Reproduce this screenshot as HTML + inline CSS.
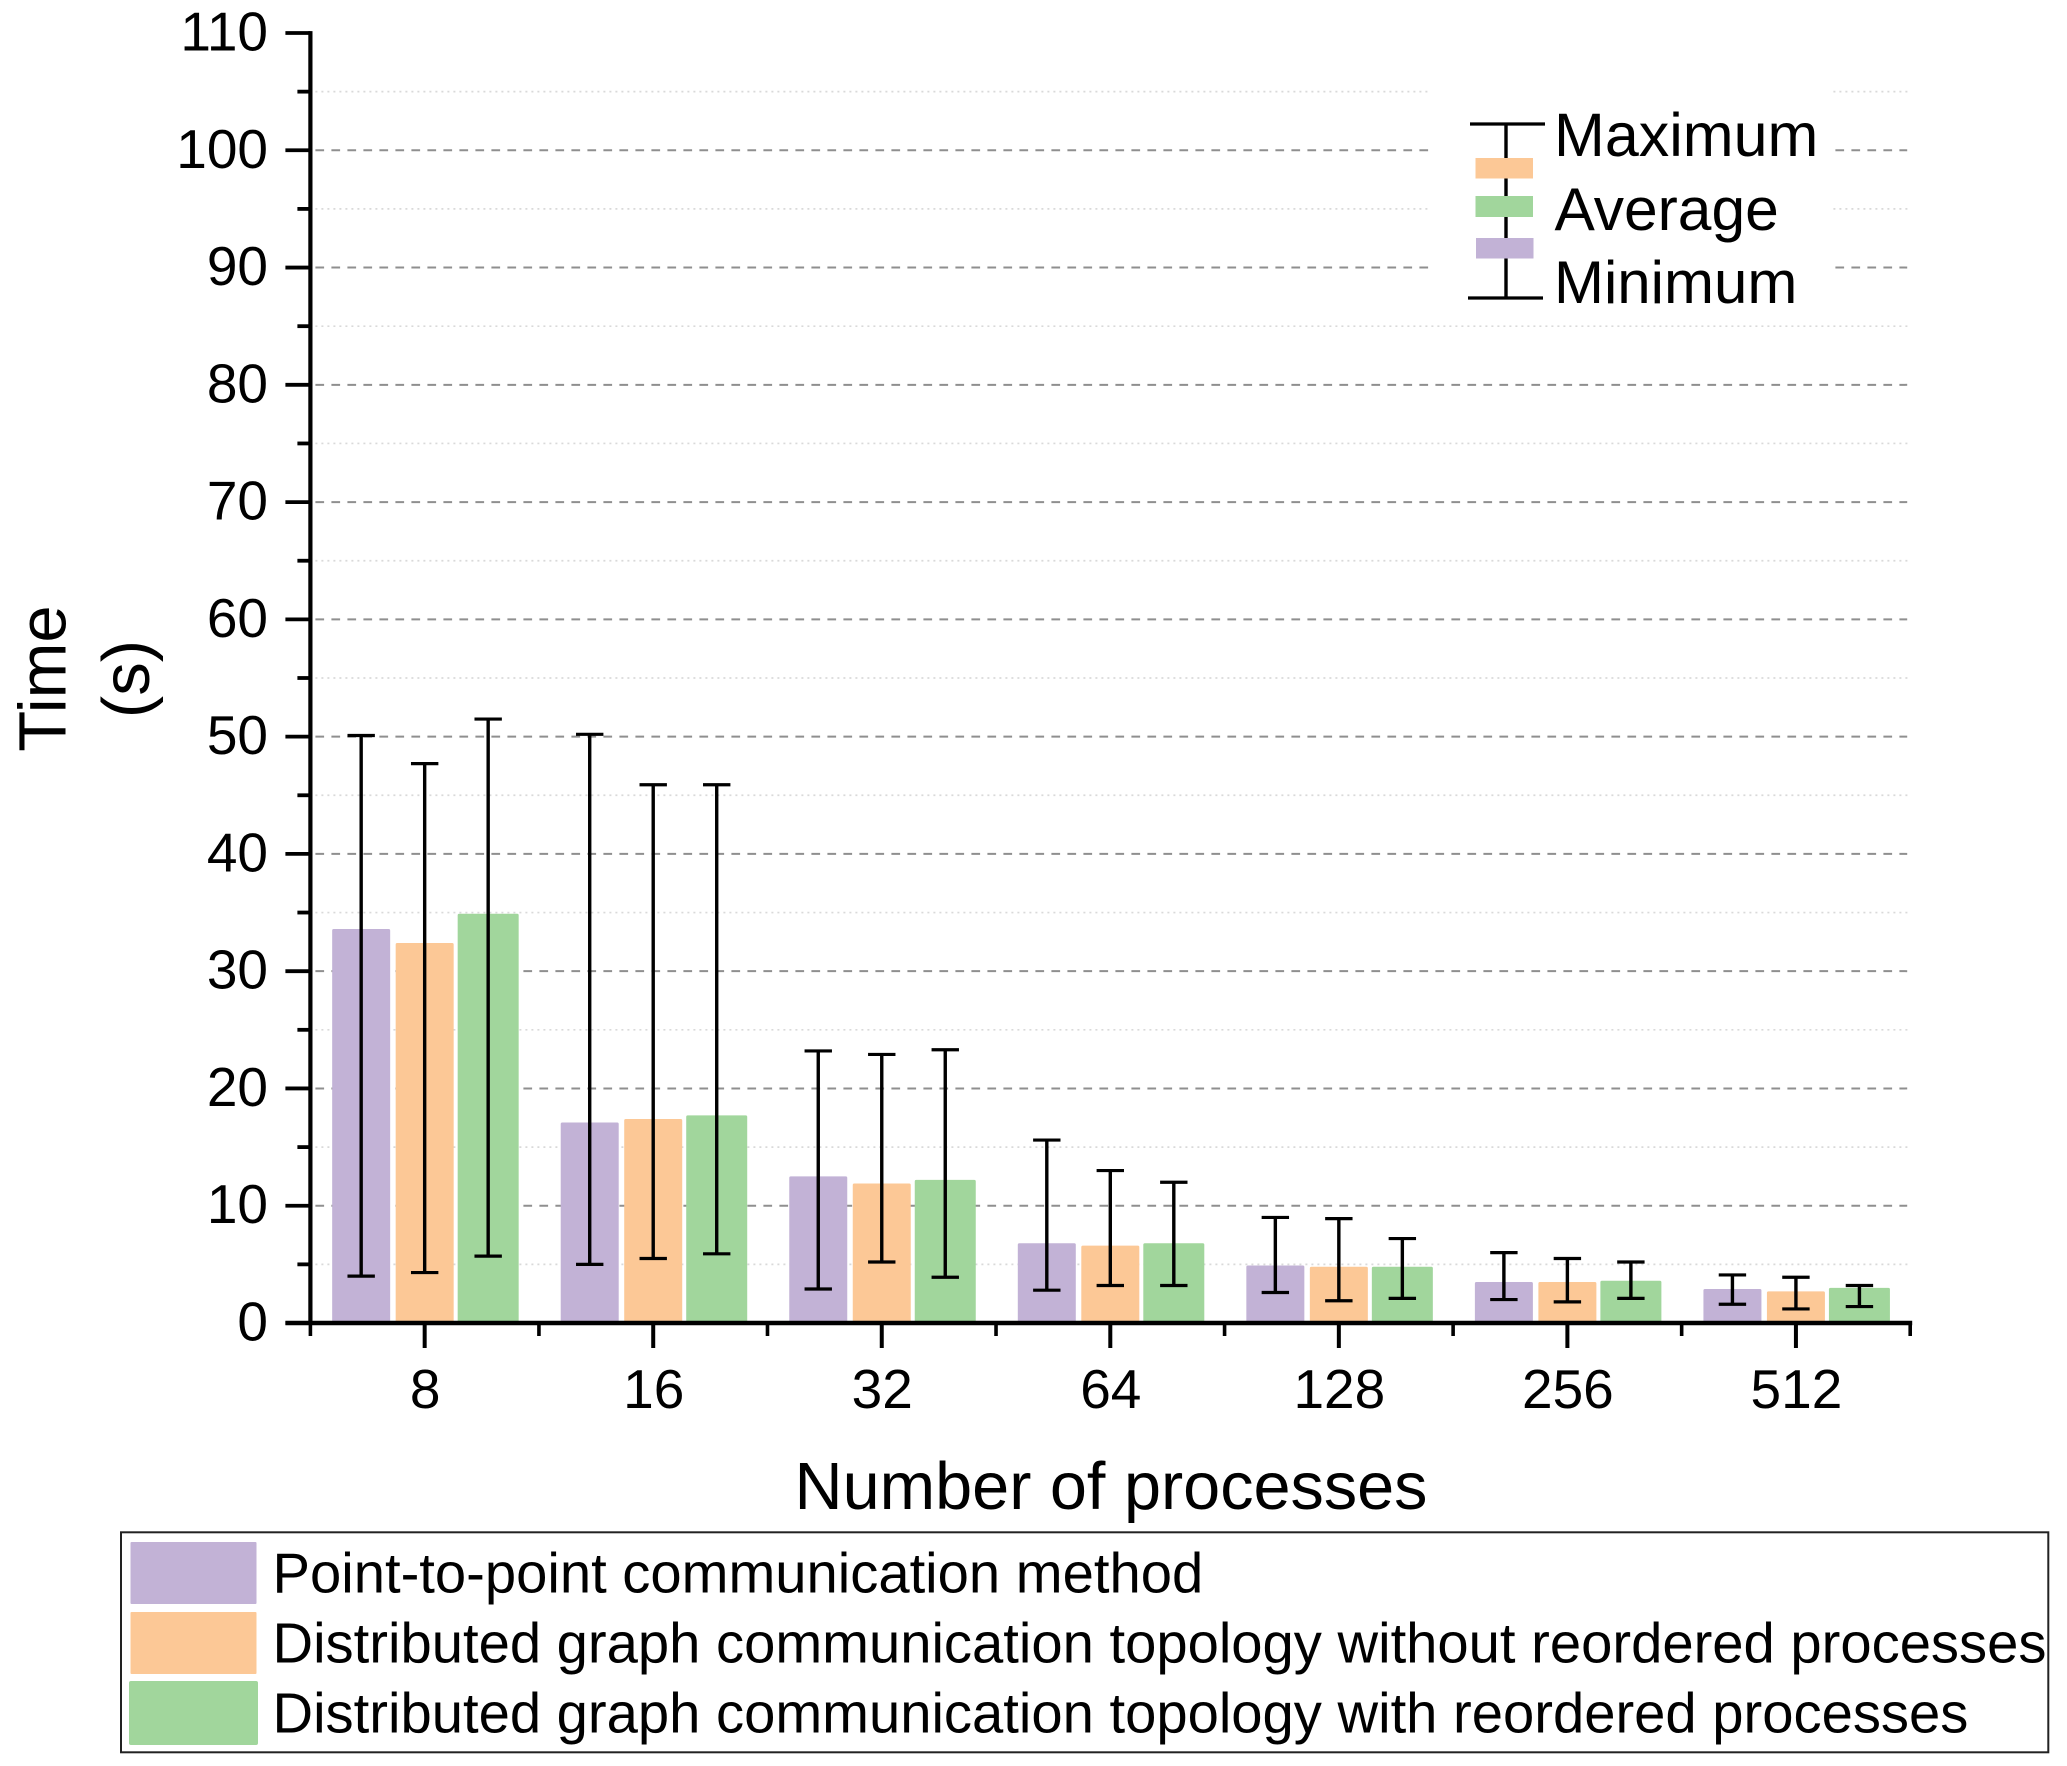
<!DOCTYPE html>
<html lang="en">
<head>
<meta charset="utf-8">
<title>Time by number of processes</title>
<style>
html,body{margin:0;padding:0;background:#fff;width:2067px;height:1766px;overflow:hidden}
svg{display:block}
text{font-family:"Liberation Sans",Arial,sans-serif;fill:#000}
</style>
</head>
<body>
<svg id="chart" xmlns="http://www.w3.org/2000/svg" width="2067" height="1766" viewBox="0 0 2067 1766">
  <rect x="0" y="0" width="2067" height="1766" fill="#fff"/>
  <g id="grid"></g>
  <rect x="1430" y="88" width="403" height="235" fill="#fff"/>
  <g id="bars"></g>
  <g id="errors"></g>
  <g id="axes"></g>

  <text transform="translate(65.5,678.5) rotate(-90)" text-anchor="middle" font-size="67">Time</text>
  <text transform="translate(149,679) rotate(-90)" text-anchor="middle" font-size="67">(s)</text>
  <text x="1111" y="1509" text-anchor="middle" font-size="66.6">Number of processes</text>

  <g>
    <line x1="1506" y1="123" x2="1506" y2="299" stroke="#000" stroke-width="3.4"/>
    <line x1="1470" y1="124" x2="1545" y2="124" stroke="#000" stroke-width="3.2"/>
    <line x1="1468" y1="298" x2="1543" y2="298" stroke="#000" stroke-width="3.2"/>
    <rect x="1475.5" y="158" width="57.5" height="20.5" fill="#fcc896"/>
    <rect x="1475.5" y="196" width="57.5" height="21" fill="#a1d69c"/>
    <rect x="1476" y="238" width="57.5" height="20.5" fill="#c2b2d6"/>
    <text x="1554" y="156" font-size="61">Maximum</text>
    <text x="1554.5" y="230" font-size="60.5">Average</text>
    <text x="1554" y="303" font-size="60">Minimum</text>
  </g>

  <g>
    <rect x="121" y="1532.3" width="1927.3" height="220" fill="#fff" stroke="#222" stroke-width="2"/>
    <rect x="130.5" y="1542" width="126" height="62" rx="1" fill="#c2b2d6"/>
    <rect x="130.5" y="1612" width="126" height="62" rx="1" fill="#fcc896"/>
    <rect x="129" y="1681" width="129" height="64" rx="2" fill="#a1d69c"/>
    <text x="272.5" y="1592.5" font-size="56.2">Point-to-point communication method</text>
    <text x="272.5" y="1662.5" font-size="56.2">Distributed graph communication topology without reordered processes</text>
    <text x="272.5" y="1732.5" font-size="56.2">Distributed graph communication topology with reordered processes</text>
  </g>
</svg>
<script>
const categories = ["8", "16", "32", "64", "128", "256", "512"];
const yTickLabels = [0, 10, 20, 30, 40, 50, 60, 70, 80, 90, 100, 110];
const yMinorTicks = [5, 15, 25, 35, 45, 55, 65, 75, 85, 95, 105];

const pointToPointAvg = [33.6, 17.1, 12.5, 6.8, 4.9, 3.5, 2.9];
const pointToPointMax = [50.1, 50.2, 23.2, 15.6, 9.0, 6.0, 4.1];
const pointToPointMin = [4.0, 5.0, 2.9, 2.8, 2.6, 2.0, 1.6];

const noReorderAvg = [32.4, 17.4, 11.9, 6.6, 4.8, 3.5, 2.7];
const noReorderMax = [47.7, 45.9, 22.9, 13.0, 8.9, 5.5, 3.9];
const noReorderMin = [4.3, 5.5, 5.2, 3.2, 1.9, 1.8, 1.2];

const reorderAvg = [34.9, 17.7, 12.2, 6.8, 4.8, 3.6, 3.0];
const reorderMax = [51.5, 45.9, 23.3, 12.0, 7.2, 5.2, 3.2];
const reorderMin = [5.7, 5.9, 3.9, 3.2, 2.1, 2.1, 1.4];

const seriesAvg = [pointToPointAvg, noReorderAvg, reorderAvg];
const seriesMax = [pointToPointMax, noReorderMax, reorderMax];
const seriesMin = [pointToPointMin, noReorderMin, reorderMin];
const seriesNames = ["point-to-point", "without-reordering", "with-reordering"];
const seriesFill = ["#c2b2d6", "#fcc896", "#a1d69c"];

const NS = "http://www.w3.org/2000/svg";
const plotLeft = 310.4, plotRight = 1910.2, yZero = 1323, yTop = 33, yDomainMax = 110;
const band = (plotRight - plotLeft) / categories.length;
const slot = 63.5;

function yScale(v) { return yZero - (v / yDomainMax) * (yZero - yTop); }
function xCenter(i) { return plotLeft + band * (i + 0.5); }
function xEdge(i) { return plotLeft + band * i; }
function xSeries(i, s) { return xCenter(i) + (s - 1) * slot; }

function mkLine(parent, x1, y1, x2, y2, stroke, width, dash) {
  const l = document.createElementNS(NS, "line");
  l.setAttribute("x1", x1);
  l.setAttribute("y1", y1);
  l.setAttribute("x2", x2);
  l.setAttribute("y2", y2);
  l.setAttribute("stroke", stroke);
  l.setAttribute("stroke-width", width);
  if (dash) l.setAttribute("stroke-dasharray", dash);
  parent.appendChild(l);
  return l;
}

const grid = document.getElementById("grid");
const bars = document.getElementById("bars");
const errors = document.getElementById("errors");
const axes = document.getElementById("axes");

yMinorTicks.forEach(function (v) {
  const g = mkLine(grid, plotLeft + 5, yScale(v), plotRight, yScale(v), "#d9d9d9", 1.7, "2 4");
  
  
  const t = mkLine(axes, plotLeft - 13, yScale(v), plotLeft, yScale(v), "#000", 3.8);
  
  
});

yTickLabels.forEach(function (v) {
  if (v > 0 && v < yDomainMax) {
    const g = mkLine(grid, plotLeft + 5, yScale(v), plotRight - 3, yScale(v), "#8f8f8f", 2, "8.7 7.3");
    
    
  }
  const t = mkLine(axes, plotLeft - 25, yScale(v), plotLeft, yScale(v), "#000", 3.8);
  
  
  const lab = document.createElementNS(NS, "text");
  lab.setAttribute("x", 268);
  lab.setAttribute("y", yScale(v) + 17.5);
  lab.setAttribute("text-anchor", "end");
  lab.setAttribute("font-size", 55);
  lab.textContent = v;
  
  
  axes.appendChild(lab);
});

categories.forEach(function (c, i) {
  seriesAvg.forEach(function (vals, s) {
    const w = s === 2 ? 61 : 58;
    const r = document.createElementNS(NS, "rect");
    r.setAttribute("x", xSeries(i, s) - w / 2);
    r.setAttribute("y", yScale(vals[i]));
    r.setAttribute("width", w);
    r.setAttribute("height", yZero - yScale(vals[i]));
    r.setAttribute("rx", 1.5);
    r.setAttribute("fill", seriesFill[s]);
    
    
    bars.appendChild(r);

    const cx = xSeries(i, s);
    const top = yScale(seriesMax[s][i]);
    const bot = yScale(seriesMin[s][i]);
    const g = document.createElementNS(NS, "g");
    
    
    mkLine(g, cx, top, cx, bot, "#000", 3.4);
    mkLine(g, cx - 13.7, top, cx + 13.7, top, "#000", 3.2);
    mkLine(g, cx - 13.7, bot, cx + 13.7, bot, "#000", 3.2);
    errors.appendChild(g);
  });

  const tick = mkLine(axes, xCenter(i), yZero, xCenter(i), yZero + 25, "#000", 4);
  
  
  const lab = document.createElementNS(NS, "text");
  lab.setAttribute("x", xCenter(i) + 0.5);
  lab.setAttribute("y", 1408);
  lab.setAttribute("text-anchor", "middle");
  lab.setAttribute("font-size", 55);
  lab.textContent = c;
  
  
  axes.appendChild(lab);
});

for (let i = 0; i <= categories.length; i++) {
  const m = mkLine(axes, xEdge(i), yZero, xEdge(i), yZero + 13, "#000", 3.6);
  
  
}

const yAxis = mkLine(axes, plotLeft, yTop - 1.9, plotLeft, yZero + 2, "#000", 4.2);


const xAxis = mkLine(axes, plotLeft - 25, yZero, plotRight + 2, yZero, "#000", 4.5);


</script>
</body>
</html>
